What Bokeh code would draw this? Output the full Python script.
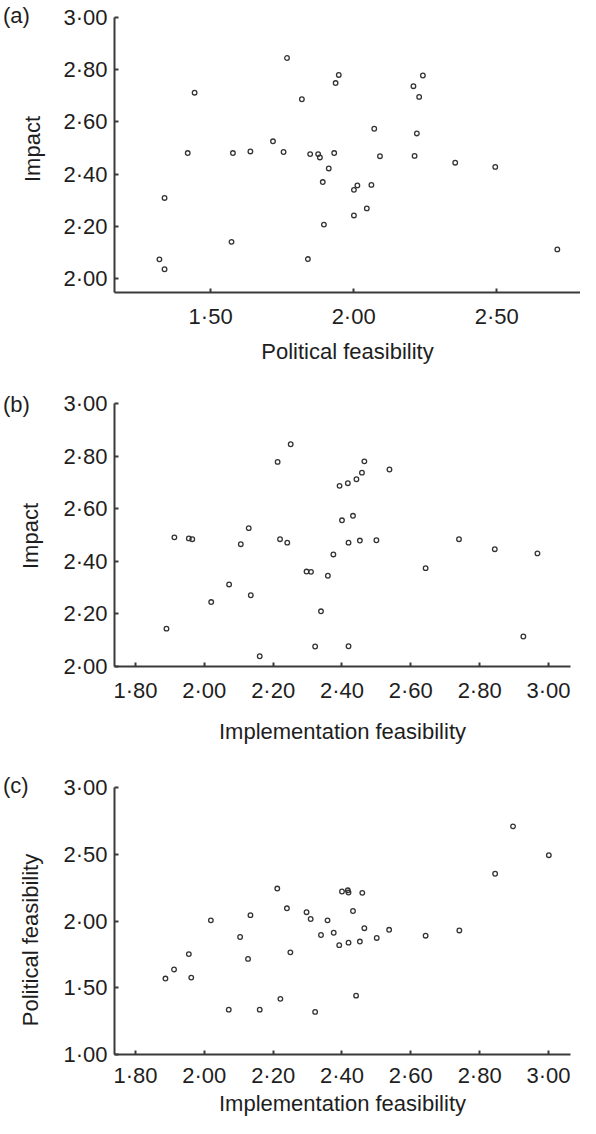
from bokeh.plotting import figure
from bokeh.layouts import column, row
from bokeh.models import Range1d, FixedTicker, Div
from bokeh.embed import file_html
from bokeh.resources import INLINE

# ---------------- data ----------------
# Panel (a): Political feasibility (x) vs Impact (y)
pf_a = [1.767, 1.948, 1.937, 1.444, 1.819, 2.242, 2.209, 2.229, 2.072, 2.221,
        1.718, 1.420, 1.578, 1.639, 1.755, 1.848, 1.876, 1.882, 1.932, 2.092,
        2.213, 2.355, 2.495, 1.913, 1.892, 2.013, 2.001, 2.062, 1.339, 2.046,
        2.001, 1.896, 1.573, 1.321, 1.339, 1.840, 2.712]
impact_a = [2.845, 2.780, 2.749, 2.712, 2.687, 2.778, 2.737, 2.696, 2.574, 2.556,
            2.526, 2.481, 2.481, 2.487, 2.485, 2.477, 2.477, 2.464, 2.481, 2.469,
            2.470, 2.444, 2.428, 2.422, 2.370, 2.357, 2.340, 2.359, 2.309, 2.269,
            2.242, 2.207, 2.141, 2.074, 2.036, 2.075, 2.112]

# Panel (b): Implementation feasibility (x) vs Impact (y)
if_b = [2.251, 2.213, 2.465, 2.538, 2.458, 2.442, 2.417, 2.393, 2.432, 2.400,
        2.129, 1.913, 1.955, 1.965, 2.106, 2.220, 2.241, 2.419, 2.452, 2.500,
        2.740, 2.844, 2.968, 2.375, 2.643, 2.297, 2.310, 2.072, 2.359, 2.135,
        2.020, 2.339, 1.890, 2.927, 2.322, 2.419, 2.161]
impact_b = [2.845, 2.778, 2.780, 2.749, 2.737, 2.712, 2.697, 2.687, 2.573, 2.556,
            2.526, 2.491, 2.487, 2.484, 2.465, 2.484, 2.471, 2.471, 2.479, 2.480,
            2.484, 2.446, 2.430, 2.426, 2.374, 2.361, 2.360, 2.312, 2.345, 2.271,
            2.245, 2.210, 2.144, 2.114, 2.076, 2.077, 2.039]

# Panel (c): Implementation feasibility (x) vs Political feasibility (y)
if_c = [2.897, 3.001, 2.845, 2.212, 2.400, 2.417, 2.419, 2.459, 2.240, 2.297,
        2.432, 2.309, 2.358, 2.019, 2.134, 2.339, 2.376, 2.465, 2.537, 2.741,
        2.643, 2.501, 2.452, 2.419, 2.392, 2.104, 2.250, 1.955, 2.127, 1.912,
        1.887, 1.962, 2.441, 2.221, 2.071, 2.161, 2.322]
pf_c = [2.709, 2.493, 2.354, 2.243, 2.221, 2.230, 2.213, 2.211, 2.095, 2.066,
        2.075, 2.015, 2.005, 2.005, 2.044, 1.895, 1.912, 1.946, 1.934, 1.929,
        1.890, 1.873, 1.846, 1.838, 1.819, 1.880, 1.765, 1.752, 1.716, 1.637,
        1.569, 1.576, 1.441, 1.417, 1.336, 1.336, 1.319]

# tick values and labels
xticks_a = [1.5, 2.0, 2.5]
xlabels_a = ["1·50", "2·00", "2·50"]
yticks_ab = [2.0, 2.2, 2.4, 2.6, 2.8, 3.0]
ylabels_ab = ["2·00", "2·20", "2·40", "2·60", "2·80", "3·00"]
xticks_bc = [1.8, 2.0, 2.2, 2.4, 2.6, 2.8, 3.0]
xlabels_bc = ["1·80", "2·00", "2·20", "2·40", "2·60", "2·80", "3·00"]
yticks_c = [1.0, 1.5, 2.0, 2.5, 3.0]
ylabels_c = ["1·00", "1·50", "2·00", "2·50", "3·00"]
tags = ["(a)", "(b)", "(c)"]

FONT = "Liberation Sans"
TXT = "#1e1e1e"
AX = "#3a3a3a"
SIDE_W = 54            # strip holding the panel tag and the rotated y title
W = 580 - SIDE_W
LEFT = 114 - SIDE_W
FS = "22px"


def side_strip(tag, ytitle, height, tag_top, title_x, title_top):
    html = (
        f'<div style="position:relative;width:{SIDE_W}px;height:{height}px;'
        f"font-family:'{FONT}';font-size:{FS};color:{TXT};line-height:1;\">"
        f'<span style="position:absolute;left:3px;top:{tag_top}px;'
        f'transform:translateY(-50%);white-space:nowrap;">{tag}</span>'
        f'<span style="position:absolute;left:{title_x}px;top:{title_top}px;'
        f'transform:translate(-50%,-50%) rotate(-90deg);white-space:nowrap;">{ytitle}</span>'
        f'</div>'
    )
    return Div(text=html, width=SIDE_W, height=height, margin=(0, 0, 0, 0))


def make_panel(x, y, xr, yr, xticks, xlabels, yticks, ylabels, xtitle, ytitle,
               tag, height, top, bottom, right, xstand, xtitle_stand,
               tag_top, title_x, title_top):
    p = figure(width=W, height=height, x_range=Range1d(*xr), y_range=Range1d(*yr),
               output_backend="svg", toolbar_location=None,
               min_border_left=LEFT, min_border_right=right,
               min_border_top=top, min_border_bottom=bottom)
    p.grid.visible = False
    p.outline_line_color = None
    p.background_fill_color = "white"
    p.border_fill_color = "white"
    p.scatter(x, y, marker="circle", size=4.6, fill_color=None,
              line_color="#333333", line_width=1.3)
    for ax, ticks, labels in ((p.xaxis[0], xticks, xlabels), (p.yaxis[0], yticks, ylabels)):
        ax.ticker = FixedTicker(ticks=ticks)
        ax.major_label_overrides = {t: l for t, l in zip(ticks, labels)}
        ax.axis_line_width = 2
        ax.axis_line_color = AX
        ax.major_tick_line_width = 2
        ax.major_tick_line_color = AX
        ax.major_tick_in = 4
        ax.major_tick_out = 0
        ax.minor_tick_line_color = None
        ax.major_label_text_font = FONT
        ax.major_label_text_font_size = FS
        ax.major_label_text_color = TXT
        ax.axis_label_text_font = FONT
        ax.axis_label_text_font_size = FS
        ax.axis_label_text_font_style = "normal"
        ax.axis_label_text_color = TXT
    p.xaxis.axis_label = xtitle
    p.xaxis.major_label_standoff = xstand
    p.xaxis.axis_label_standoff = xtitle_stand
    p.yaxis.major_label_standoff = 7
    strip = side_strip(tag, ytitle, height, tag_top, title_x, title_top)
    return row(strip, p, spacing=0)


pa = make_panel(pf_a, impact_a, (1.164, 2.793), (1.947, 3.0), xticks_a, xlabels_a,
                yticks_ab, ylabels_ab, "Political feasibility", "Impact", tags[0],
                366, 17, 69, 0, 11, 7, 16, 33, 149)
pb = make_panel(if_b, impact_b, (1.739, 3.064), (2.0, 3.0), xticks_bc, xlabels_bc,
                yticks_ab, ylabels_ab, "Implementation feasibility", "Impact", tags[1],
                380, 37, 75, 10, 11, 13, 39, 31, 170)
pc = make_panel(if_c, pf_c, (1.739, 3.064), (1.0, 3.0), xticks_bc, xlabels_bc,
                yticks_c, ylabels_c, "Implementation feasibility", "Political feasibility", tags[2],
                372, 41, 58, 10, 8, 0, 40, 31, 194)

layout = column(pa, pb, pc, spacing=0)
open("out.html", "w").write(file_html(layout, INLINE))
